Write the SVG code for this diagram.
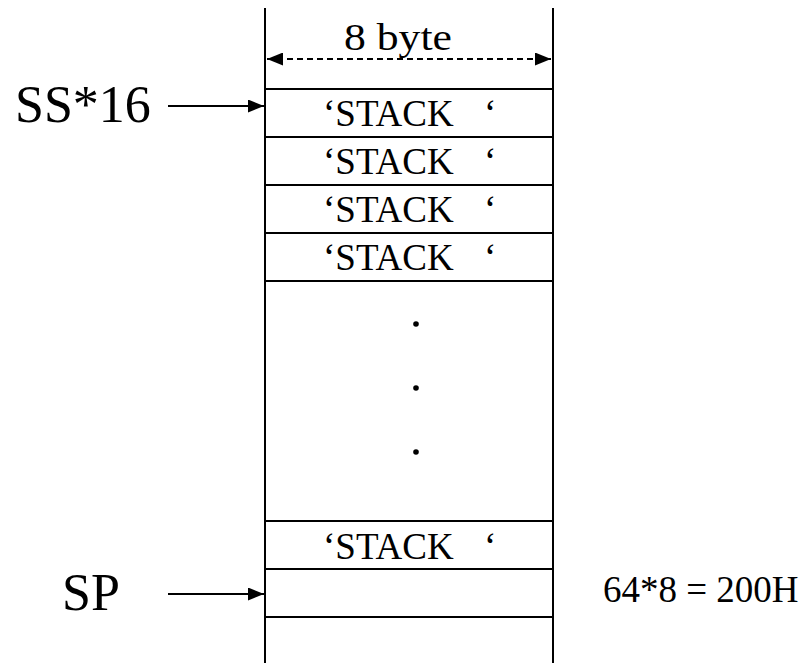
<svg xmlns="http://www.w3.org/2000/svg" width="803" height="663" viewBox="0 0 803 663">
<style>
.ln{stroke:#000;stroke-width:2;fill:none}
.t{font-family:"Liberation Serif","Times New Roman",serif;fill:#000}
.cell{font-size:37px}
.big{font-size:52px}
</style>
<defs>
<marker id="ah" viewBox="0 0 16 13" refX="16" refY="6.5" markerWidth="16" markerHeight="13" markerUnits="userSpaceOnUse" orient="auto-start-reverse">
<path d="M0,0 L16,6.5 L0,13 z" fill="#000"/>
</marker>
</defs>
<rect width="803" height="663" fill="#fff"/>
<g id="stack">
<line class="ln" x1="265" y1="8" x2="265" y2="663"/>
<line class="ln" x1="553" y1="8" x2="553" y2="663"/>
<line class="ln" x1="265" y1="89" x2="553" y2="89"/>
<line class="ln" x1="265" y1="137" x2="553" y2="137"/>
<line class="ln" x1="265" y1="185" x2="553" y2="185"/>
<line class="ln" x1="265" y1="233" x2="553" y2="233"/>
<line class="ln" x1="265" y1="281" x2="553" y2="281"/>
<line class="ln" x1="265" y1="521" x2="553" y2="521"/>
<line class="ln" x1="265" y1="569" x2="553" y2="569"/>
<line class="ln" x1="265" y1="617" x2="553" y2="617"/>
</g>
<g id="row1"><text class="t cell" y="126"><tspan x="323">‘STACK</tspan><tspan x="484">‘</tspan></text></g>
<g id="row2"><text class="t cell" y="174"><tspan x="323">‘STACK</tspan><tspan x="484">‘</tspan></text></g>
<g id="row3"><text class="t cell" y="222"><tspan x="323">‘STACK</tspan><tspan x="484">‘</tspan></text></g>
<g id="row4"><text class="t cell" y="270"><tspan x="323">‘STACK</tspan><tspan x="484">‘</tspan></text></g>
<g id="dots">
<circle cx="416" cy="324" r="2.8"/>
<circle cx="416" cy="388" r="2.8"/>
<circle cx="416" cy="452" r="2.8"/>
</g>
<g id="row5"><text class="t cell" y="559"><tspan x="323">‘STACK</tspan><tspan x="484">‘</tspan></text></g>
<g id="width-label"><text class="t cell" x="344" y="50" textLength="108" lengthAdjust="spacingAndGlyphs">8 byte</text></g>
<g id="ss-label"><text class="t big" x="15" y="122">SS*16</text></g>
<g id="sp-label"><text class="t big" x="62" y="610">SP</text></g>
<g id="size-label"><text class="t cell" x="603" y="602">64*8 = 200H</text></g>
<g id="connectors">
<line class="ln" x1="267" y1="59" x2="551" y2="59" stroke-dasharray="6,4" marker-start="url(#ah)" marker-end="url(#ah)"/>
<line class="ln" x1="168" y1="106" x2="264" y2="106" marker-end="url(#ah)"/>
<line class="ln" x1="168" y1="594" x2="264" y2="594" marker-end="url(#ah)"/>
</g>
</svg>
